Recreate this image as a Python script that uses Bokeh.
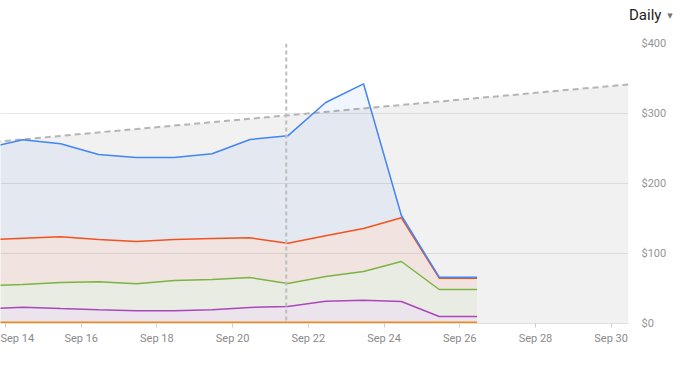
import pandas as pd
from bokeh.plotting import figure
from bokeh.layouts import column
from bokeh.models import (Range1d, FixedTicker, DatetimeTickFormatter, Span, Div,
                          NumeralTickFormatter)
from bokeh.embed import file_html
from bokeh.resources import INLINE

# ---- data ----
dates = ["2023-09-13 11:00", "2023-09-14 11:00", "2023-09-15 11:00", "2023-09-16 11:00",
         "2023-09-17 11:00", "2023-09-18 11:00", "2023-09-19 11:00", "2023-09-20 11:00",
         "2023-09-21 11:00", "2023-09-22 11:00", "2023-09-23 11:00", "2023-09-24 11:00",
         "2023-09-25 11:00", "2023-09-26 11:00"]
orange_cost = [1.5, 1.5, 1.5, 1.5, 1.5, 1.5, 1.5, 1.5, 1.5, 1.5, 1.5, 1.5, 1.5, 1.5]
purple_cost = [19.2, 21.8, 19.9, 18.1, 16.6, 16.6, 18.1, 21.4, 22.8, 30.4, 31.8, 29.9, 8.5, 8.5]
green_cost = [33.3, 32.4, 37.2, 40.0, 38.6, 43.3, 43.3, 42.8, 32.8, 35.2, 41.0, 57.2, 38.6, 38.6]
red_cost = [65.3, 66.2, 65.3, 60.4, 60.4, 58.6, 58.5, 56.7, 57.6, 58.2, 61.4, 62.4, 16.1, 16.1]
blue_cost = [130.7, 140.5, 132.8, 121.4, 120.0, 117.1, 121.0, 140.5, 153.4, 190.4, 206.7, 3.3, 1.4, 1.4]

forecast_dates = ["2023-09-13 11:00", "2023-09-14 11:00", "2023-09-15 11:00", "2023-09-16 11:00",
                  "2023-09-17 11:00", "2023-09-18 11:00", "2023-09-19 11:00", "2023-09-20 11:00",
                  "2023-09-21 11:00", "2023-09-22 11:00", "2023-09-23 11:00", "2023-09-24 11:00",
                  "2023-09-25 11:00", "2023-09-26 11:00", "2023-09-27 11:00", "2023-09-28 11:00",
                  "2023-09-29 11:00", "2023-09-30 11:00"]
forecast = [258.3, 263.0, 268.0, 273.0, 277.8, 282.8, 287.6, 292.5, 297.4, 302.3, 307.3,
            312.2, 317.1, 322.0, 326.8, 331.8, 336.6, 341.5]

today_marker = "2023-09-21 10:00"
x_tick_dates = ["2023-09-14", "2023-09-16", "2023-09-18", "2023-09-20", "2023-09-22",
                "2023-09-24", "2023-09-26", "2023-09-28", "2023-09-30"]
y_ticks = [0, 100, 200, 300, 400]
period_label = "Daily"

# ---- derived stacks ----
x = pd.to_datetime(dates)
fx = pd.to_datetime(forecast_dates)
layers = [orange_cost, purple_cost, green_cost, red_cost, blue_cost]
cum = []
run = [0.0] * len(dates)
for s in layers:
    run = [a + b for a, b in zip(run, s)]
    cum.append(run)


def ms(s):
    return pd.Timestamp(s).value / 1e6


p = figure(x_axis_type="datetime", frame_width=628, frame_height=280,
           x_range=Range1d(pd.Timestamp("2023-09-13 20:50"), pd.Timestamp("2023-09-30 11:00")),
           y_range=Range1d(0, 400), y_axis_location="right",
           toolbar_location=None, output_backend="svg",
           min_border_left=0, min_border_right=50, min_border_top=13, min_border_bottom=28,
           background_fill_color="white", border_fill_color="white")
p.outline_line_color = None

# forecast area
p.varea(x=fx, y1=[0] * len(forecast), y2=forecast, fill_color="#000000", fill_alpha=0.055)
p.line(fx, forecast, line_color="#b5b5b5", line_width=2, line_dash="6 4")

colors = ["#ef8c10", "#ab47bc", "#7cb342", "#f4511e", "#4285f4"]
lower = [0.0] * len(dates)
for c, top in zip(colors, cum):
    p.varea(x=x, y1=lower, y2=top, fill_color=c, fill_alpha=0.08)
    lower = top
for c, top in zip(colors, cum):
    p.line(x, top, line_color=c, line_width=2 if c == "#ef8c10" else 1.5)

p.add_layout(Span(location=ms(today_marker), dimension="height", line_color="#bdbdbd",
                  line_width=2, line_dash="4 3"))

# axes
p.yaxis.ticker = FixedTicker(ticks=y_ticks)
p.yaxis.formatter = NumeralTickFormatter(format="$0")
p.yaxis.axis_line_color = None
p.yaxis.major_tick_line_color = None
p.yaxis.minor_tick_line_color = None
p.yaxis.major_label_standoff = 7
p.yaxis.major_label_text_font = "Roboto"
p.yaxis.major_label_text_font_size = "11px"
p.yaxis.major_label_text_color = "#959595"

p.xaxis.ticker = FixedTicker(ticks=[ms(d) for d in x_tick_dates])
p.xaxis.formatter = DatetimeTickFormatter(days="%b %d", months="%b %d", hours="%b %d")
p.xaxis.axis_line_color = "#e0e0e0"
p.xaxis.major_tick_line_color = "#cccccc"
p.xaxis.major_tick_in = 0
p.xaxis.major_tick_out = 4
p.xaxis.minor_tick_line_color = None
p.xaxis.major_label_standoff = 4
p.xaxis.major_label_text_font = "Roboto"
p.xaxis.major_label_text_font_size = "11px"
p.xaxis.major_label_text_color = "#8a8a8a"

p.xgrid.visible = False
p.ygrid.grid_line_color = "#e8e8e8"
p.ygrid.grid_line_width = 1

header = Div(
    text=('<div style="position:absolute;left:629px;top:4px;white-space:nowrap;'
          'font-family:Roboto;font-size:15px;line-height:22px;color:#212121">'
          + period_label +
          ' <span style="font-family:\'DejaVu Sans\';font-size:7px;color:#757575;'
          'vertical-align:middle;margin-left:2px">\u25BC</span></div>'),
    width=678, height=30, styles={"position": "relative", "margin": "0"})

layout = column(header, p, spacing=0)
open("out.html", "w").write(file_html(layout, INLINE))
